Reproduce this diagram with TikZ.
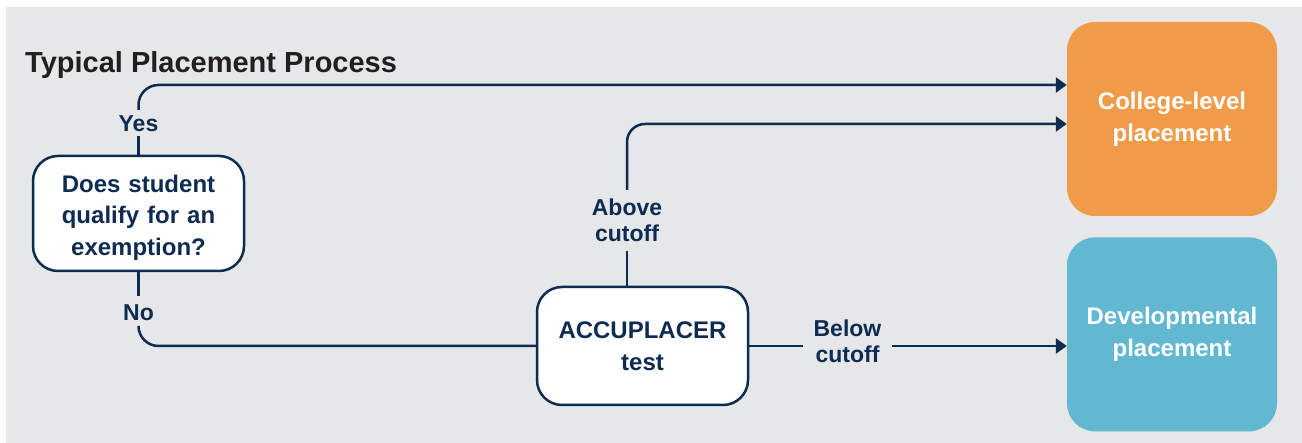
\documentclass[tikz,border=0pt]{standalone}
\usepackage{fontspec}
\setmainfont{Liberation Sans}
\usepackage{tikz}
\usetikzlibrary{positioning}
\usetikzlibrary{arrows.meta}
\definecolor{navy}{HTML}{0E2B52}
\definecolor{inkblack}{HTML}{231F20}
\definecolor{panelgray}{HTML}{E6E7E9}
\definecolor{collegeorange}{HTML}{EF9B48}
\definecolor{develblue}{HTML}{62B8D1}

\begin{document}
\begin{tikzpicture}[x=1pt, y=1pt,
				decision/.style={draw=navy, line width=2.5pt, fill=white, rounded corners=25pt, minimum width=211pt, text width=190pt, text=navy, font=\bfseries\fontsize{24}{31.5}\selectfont},
				outcome/.style={fill=#1, rounded corners=28pt, minimum width=210pt, minimum height=194pt, text=white, font=\bfseries\fontsize{24}{32}\selectfont},
				choice/.style={fill=panelgray, text=navy, font=\bfseries\fontsize{23}{26}\selectfont},
				flow/.style={draw=navy, line width=2.5pt},
				tip/.style={-{Triangle[length=11pt, width=15pt]}},
				every text node part/.style={align=center}]

				\useasboundingbox (0,0) rectangle (1302,443);
				\fill[panelgray] (6,0) rectangle (1302,436);

				\node[anchor=base west, inner sep=0pt, text=inkblack, font=\bfseries\fontsize{29}{34}\selectfont] (title) at (25,370) {Typical Placement Process};

				\node[decision, minimum height=115pt] (exempt) at (138.5,229.5) {\rule{0pt}{25pt}Does student\\qualify for an\\exemption?};
				\node[decision, minimum height=118pt] (test) at (642.5,97) {ACCUPLACER\\test};

				\node[outcome=collegeorange] (college) at (1172,324) {College-level\\placement};
				\node[outcome=develblue, below=21pt of college] (devel) {Developmental\\placement};

				\node[choice, text height=17pt, text depth=0pt, inner sep=4.5pt] (yes) at (138.5,320) {Yes};
				\node[choice, text height=17pt, text depth=0pt, inner sep=7pt] (no) at (138.5,131) {No};
				\node[choice, inner xsep=3pt, inner ysep=9pt] (above) at (627,222.5) {Above\\cutoff};
				\node[choice, inner xsep=10pt, inner ysep=4pt] (below) at (847.5,101.5) {Below\\cutoff};

				\draw [flow] (exempt.north) -- (yes.south);
				\draw [flow, tip, rounded corners=20pt] (yes.north) |- ([yshift=34pt]college.west);
				\draw [flow] (exempt.south) -- (no.north);
				\draw [flow, rounded corners=20pt] (no.south) |- (test.west);
				\draw [flow] (above.south |- test.north) -- (above.south);
				\draw [flow, tip, rounded corners=18pt] (above.north) |- ([yshift=-5pt]college.west);
				\draw [flow] (test.east) -- (test.east -| below.west);
				\draw [flow, tip] (test.east -| below.east) -- (test.east -| devel.west);

\end{tikzpicture}
\end{document}
